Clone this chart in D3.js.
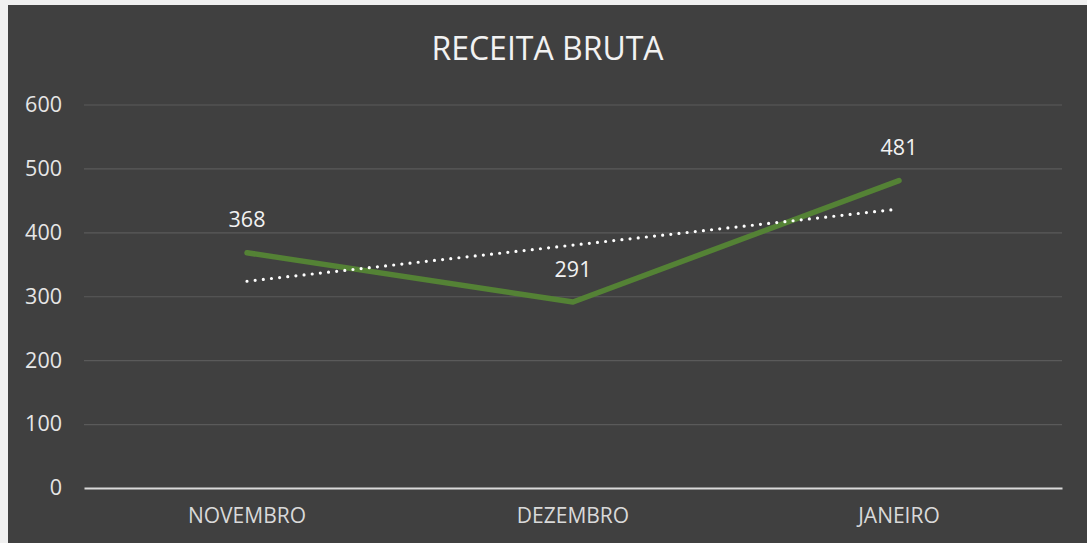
<!DOCTYPE html>
<html>
<head>
<meta charset="utf-8">
<script src="https://cdn.jsdelivr.net/npm/d3@7"></script>
<style>
  html, body { margin: 0; padding: 0; background: #f0f0f0; }
  svg { display: block; font-family: "Open Sans", sans-serif; }
</style>
</head>
<body>
<svg id="chart" width="1087" height="543"></svg>
<script>
const months = ["NOVEMBRO", "DEZEMBRO", "JANEIRO"];
const receita = [368, 291, 481];
const yTicks = [0, 100, 200, 300, 400, 500, 600];
const title = "RECEITA BRUTA";

const width = 1087, height = 543;
const margin = { top: 104.5, right: 25, bottom: 55, left: 84 };

const svg = d3.select("#chart");

// chart background (light strip left/top like the reference)
svg.append("rect")
  .attr("x", 8).attr("y", 5)
  .attr("width", width - 8).attr("height", height - 5)
  .attr("fill", "#404040");

const x = d3.scaleBand()
  .domain(months)
  .range([margin.left, width - margin.right]);

const y = d3.scaleLinear()
  .domain([0, 600])
  .range([height - margin.bottom, margin.top]);

// Grid lines
svg.append("g")
  .attr("transform", `translate(${margin.left},0)`)
  .call(d3.axisLeft(y).tickValues(yTicks.slice(1)).tickSize(-(width - margin.left - margin.right)).tickFormat(() => ""))
  .call(g => g.select(".domain").remove())
  .selectAll("line")
  .attr("stroke", "#5a5a5a")
  .attr("stroke-width", 1.2);

// Y labels
svg.append("g")
  .attr("transform", `translate(${margin.left},0)`)
  .call(d3.axisLeft(y).tickValues(yTicks).tickSize(0).tickPadding(22))
  .call(g => g.select(".domain").remove())
  .selectAll("text")
  .attr("fill", "#e6e6e6")
  .style("font-size", "21.5px")
  .style("font-family", "Open Sans, sans-serif");

// X axis
svg.append("g")
  .attr("transform", `translate(0,${height - margin.bottom})`)
  .call(d3.axisBottom(x).tickSize(0).tickPadding(20))
  .call(g => g.select(".domain").attr("stroke", "#d9d9d9").attr("stroke-width", 2))
  .selectAll("text")
  .attr("fill", "#d9d9d9")
  .style("font-size", "21px")
  .style("font-family", "Open Sans, sans-serif");

const cx = d => x(d) + x.bandwidth() / 2;

// Line
const line = d3.line()
  .x((d, i) => cx(months[i]))
  .y(d => y(d));

svg.append("path")
  .datum(receita)
  .attr("fill", "none")
  .attr("stroke", "#548235")
  .attr("stroke-width", 5.5)
  .attr("stroke-linecap", "round")
  .attr("stroke-linejoin", "round")
  .attr("d", line);

// Linear trendline
const mx = d3.mean(receita, (d, i) => i);
const my = d3.mean(receita);
const slope = d3.sum(receita, (d, i) => (i - mx) * (d - my)) / d3.sum(receita, (d, i) => (i - mx) ** 2);
const trend = receita.map((d, i) => my + slope * (i - mx));

svg.append("path")
  .datum(trend)
  .attr("fill", "none")
  .attr("stroke", "#ffffff")
  .attr("stroke-width", 3.2)
  .attr("stroke-linecap", "round")
  .attr("stroke-dasharray", "0 8.2")
  .attr("d", line);

// Data labels
svg.append("g")
  .selectAll("text")
  .data(receita)
  .join("text")
  .attr("x", (d, i) => cx(months[i]))
  .attr("y", d => y(d) - 33)
  .attr("dy", "0.35em")
  .attr("text-anchor", "middle")
  .attr("fill", "#f2f2f2")
  .style("font-size", "21.5px")
  .text(d => d);

// Title
svg.append("text")
  .attr("x", (width + 8) / 2)
  .attr("y", 49)
  .attr("dy", "0.35em")
  .attr("text-anchor", "middle")
  .attr("fill", "#f2f2f2")
  .style("font-size", "32px")
  .text(title);
</script>
</body>
</html>
